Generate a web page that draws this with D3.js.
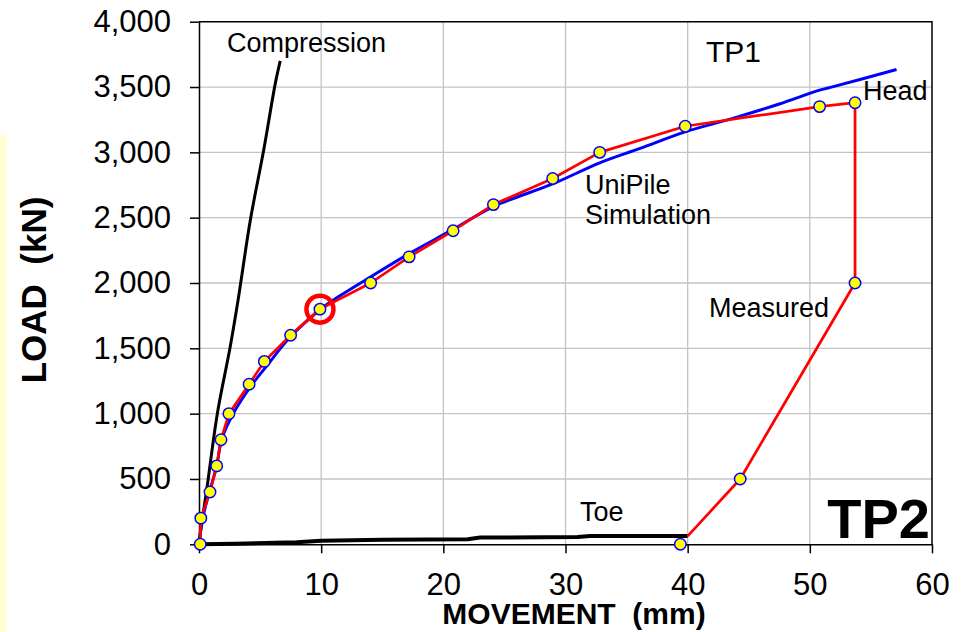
<!DOCTYPE html>
<html lang="en">
<head>
	<meta charset="utf-8">
	<title>TP2 - Load vs Movement</title>
	<script src="https://d3js.org/d3.v7.min.js"></script>
	<style>
		body { margin: 0; background: #fff; }
		svg text { font-family: "Liberation Sans", Arial, sans-serif; fill: #000; }
	</style>
</head>
<body>
	<svg width="966" height="632"></svg>
	<script type="text/javascript">

		// measured head (mm, kN) - loading then unloading
		var measuredMove = [0.1, 0.15, 0.9, 1.45, 1.8, 2.45, 4.1, 5.35, 7.5, 9.9, 14.05, 17.2, 20.8, 24.1, 28.95, 32.8, 39.8, 50.8, 53.7, 53.7, 44.3, 39.4];
		var measuredLoad = [0, 200, 400, 600, 800, 1000, 1225, 1400, 1600, 1800, 2000, 2200, 2400, 2600, 2800, 3000, 3200, 3350, 3380, 2000, 500, 0];
		// where the unloading line runs into the toe curve
		var unloadEnd = [40, 62];

		// UniPile simulation
		var simMove = [0, 0.3, 0.85, 1.45, 1.85, 2.8, 4.2, 5.5, 7.5, 9.9, 11, 14.1, 17.2, 20.8, 24.1, 29, 32.8, 36.1, 39.8, 43.7, 47.5, 50.8, 52, 57.1];
		var simLoad = [0, 200, 400, 600, 800, 1000, 1205, 1360, 1590, 1795, 1870, 2050, 2225, 2410, 2585, 2760, 2920, 3030, 3157, 3260, 3370, 3476, 3505, 3634];

		// elastic compression line
		var compMove = [0, 0.1, 0.65, 1.5, 2.55, 3.2, 4.2, 5.3, 6.25, 6.65];
		var compLoad = [0, 80, 430, 1000, 1510, 1870, 2480, 3020, 3530, 3700];

		// toe movement
		var toeMove = [0, 3, 8, 10, 15, 22, 23, 31, 32, 40];
		var toeLoad = [0, 5, 15, 28, 35, 38, 52, 55, 64, 64];

		// highlighted point
		var ringPoint = [9.9, 1800];

		var xTicks = [0, 10, 20, 30, 40, 50, 60];
		var yTicks = [0, 500, 1000, 1500, 2000, 2500, 3000, 3500, 4000];

		var svg = d3.select("svg");
		var plotLeft = 199, plotRight = 932, plotTop = 21.7, plotBottom = 544.3;

		var x = d3.scaleLinear().domain([0, 60]).range([plotLeft, plotRight]);
		var y = d3.scaleLinear().domain([0, 4000]).range([plotBottom, plotTop]);

		function pairs(xs, ys) {
			return xs.map(function(d, i) { return [d, ys[i]]; });
		}

		// pale strip on the far left
		svg.append("rect")
			.attr("x", 0).attr("y", 135)
			.attr("width", 7).attr("height", 497)
			.attr("fill", "#ffffd2");

		// grid
		svg.append("g").selectAll("line")
			.data(xTicks.slice(1, -1))
			.enter().append("line")
			.attr("x1", function(d) { return x(d); })
			.attr("x2", function(d) { return x(d); })
			.attr("y1", plotTop).attr("y2", plotBottom)
			.attr("stroke", "#c4c4c4").attr("stroke-width", 1.3);

		svg.append("g").selectAll("line")
			.data(yTicks.slice(1, -1))
			.enter().append("line")
			.attr("x1", plotLeft).attr("x2", plotRight)
			.attr("y1", function(d) { return y(d); })
			.attr("y2", function(d) { return y(d); })
			.attr("stroke", "#c4c4c4").attr("stroke-width", 1.3);

		// frame top/right
		svg.append("path")
			.attr("d", "M" + plotLeft + "," + plotTop + "H" + plotRight + "V" + plotBottom)
			.attr("fill", "none").attr("stroke", "#000").attr("stroke-width", 1.5);

		var fmt = d3.format(",");

		var yAxis = svg.append("g")
			.attr("transform", "translate(" + plotLeft + ",0)")
			.call(d3.axisLeft(y).tickValues(yTicks).tickFormat(fmt).tickSize(9).tickSizeOuter(0).tickPadding(19));

		var xAxis = svg.append("g")
			.attr("transform", "translate(0," + plotBottom + ")")
			.call(d3.axisBottom(x).tickValues(xTicks).tickSize(9).tickSizeOuter(0).tickPadding(20));

		[yAxis, xAxis].forEach(function(a) {
			a.selectAll("path, line").attr("stroke", "#000").attr("stroke-width", 1.5);
			a.selectAll("text").attr("fill", "#000")
				.style("font-family", "'Liberation Sans', Arial, sans-serif")
				.style("font-size", "31px");
		});

		var line = d3.line()
			.x(function(d) { return x(d[0]); })
			.y(function(d) { return y(d[1]); });

		var smooth = d3.line()
			.curve(d3.curveCatmullRom)
			.x(function(d) { return x(d[0]); })
			.y(function(d) { return y(d[1]); });

		// toe
		svg.append("path")
			.attr("d", line(pairs(toeMove, toeLoad)))
			.attr("fill", "none").attr("stroke", "#000").attr("stroke-width", 4);

		// compression
		svg.append("path")
			.attr("d", smooth(pairs(compMove, compLoad)))
			.attr("fill", "none").attr("stroke", "#000").attr("stroke-width", 3);

		// simulation
		svg.append("path")
			.attr("d", smooth(pairs(simMove, simLoad)))
			.attr("fill", "none").attr("stroke", "#0000ff").attr("stroke-width", 3);

		// measured
		var measured = pairs(measuredMove, measuredLoad);
		var measuredPath = measured.slice(0, -1).concat([unloadEnd]);
		svg.append("path")
			.attr("d", line(measuredPath))
			.attr("fill", "none").attr("stroke", "#ff0000").attr("stroke-width", 2.7)
			.attr("stroke-linejoin", "round");

		svg.append("g").selectAll("circle")
			.data(measured)
			.enter().append("circle")
			.attr("cx", function(d) { return x(d[0]); })
			.attr("cy", function(d) { return y(d[1]); })
			.attr("r", 5.7)
			.attr("fill", "#ffff00")
			.attr("stroke", "#0000ff").attr("stroke-width", 1.5);

		svg.append("circle")
			.attr("cx", x(ringPoint[0]))
			.attr("cy", y(ringPoint[1]))
			.attr("r", 13.5)
			.attr("fill", "none")
			.attr("stroke", "#ff0000").attr("stroke-width", 4.5);

		// labels
		var labels = [
			{ t: "Compression", x: 227, y: 52 },
			{ t: "TP1", x: 706, y: 62, size: 30 },
			{ t: "Head", x: 863, y: 100 },
			{ t: "UniPile", x: 585, y: 194 },
			{ t: "Simulation", x: 585, y: 224 },
			{ t: "Measured", x: 709, y: 317 },
			{ t: "Toe", x: 580, y: 521 }
		];
		svg.append("g").selectAll("text")
			.data(labels)
			.enter().append("text")
			.attr("x", function(d) { return d.x; })
			.attr("y", function(d) { return d.y; })
			.style("font-size", function(d) { return (d.size || 27) + "px"; })
			.text(function(d) { return d.t; });

		svg.append("text")
			.attr("x", 930).attr("y", 538)
			.attr("text-anchor", "end")
			.style("font-size", "56px").style("font-weight", "bold")
			.text("TP2");

		svg.append("text")
			.attr("x", 574).attr("y", 624)
			.attr("text-anchor", "middle")
			.style("font-size", "30px").style("font-weight", "bold")
			.attr("xml:space", "preserve")
			.text("MOVEMENT  (mm)");

		svg.append("text")
			.attr("transform", "translate(46,290) rotate(-90)")
			.attr("text-anchor", "middle")
			.style("font-size", "35px").style("font-weight", "bold")
			.attr("xml:space", "preserve")
			.text("LOAD  (kN)");

	</script>
</body>
</html>
